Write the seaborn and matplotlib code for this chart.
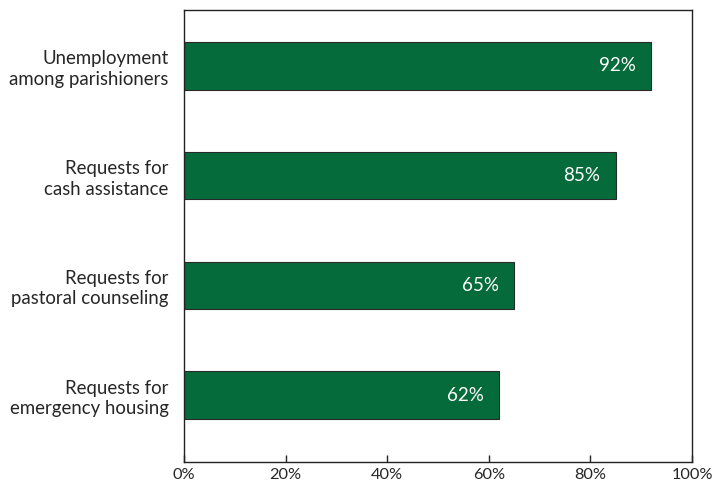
import matplotlib
matplotlib.use("Agg")
import matplotlib.pyplot as plt
import seaborn as sns
import pandas as pd

categories = [
    "Unemployment\namong parishioners",
    "Requests for\ncash assistance",
    "Requests for\npastoral counseling",
    "Requests for\nemergency housing",
]
values = [92, 85, 65, 62]
x_ticks = [0, 20, 40, 60, 80, 100]
x_tick_labels = ["0%", "20%", "40%", "60%", "80%", "100%"]

df = pd.DataFrame({"category": categories, "value": values})

sns.set_theme(style="white")
plt.rcParams["font.family"] = ["Lato", "DejaVu Sans"]

fig = plt.figure(figsize=(7.12, 4.84), dpi=100)
ax = fig.add_axes([184 / 712, 1 - 462 / 484, (692 - 184) / 712, (462 - 10) / 484])

green = "#056b3a"
sns.barplot(data=df, x="value", y="category", orient="h", color=green,
            saturation=1, width=0.43, edgecolor="#2a2a2a", linewidth=0.8, ax=ax)

for i, v in enumerate(values):
    ax.text(v - 3.0, i, f"{v}%", color="white", ha="right", va="center", fontsize=13.5)

ax.set_xlim(0, 100)
ax.set_ylim(3.61, -0.51)
ax.set_xticks(x_ticks)
ax.set_xticklabels(x_tick_labels, fontsize=11.8)
ax.set_xlabel("")
ax.set_ylabel("")
ax.tick_params(axis="x", direction="in", length=5, width=1, color="#222222", pad=4, bottom=True)
ax.tick_params(axis="y", length=0, pad=11, labelsize=13.4)
for lbl in ax.get_yticklabels():
    lbl.set_multialignment("right")
    lbl.set_linespacing(1.25)
for s in ax.spines.values():
    s.set_visible(True)
    s.set_color("#222222")
    s.set_linewidth(1)

fig.savefig("out.png", dpi=100, facecolor="white")
